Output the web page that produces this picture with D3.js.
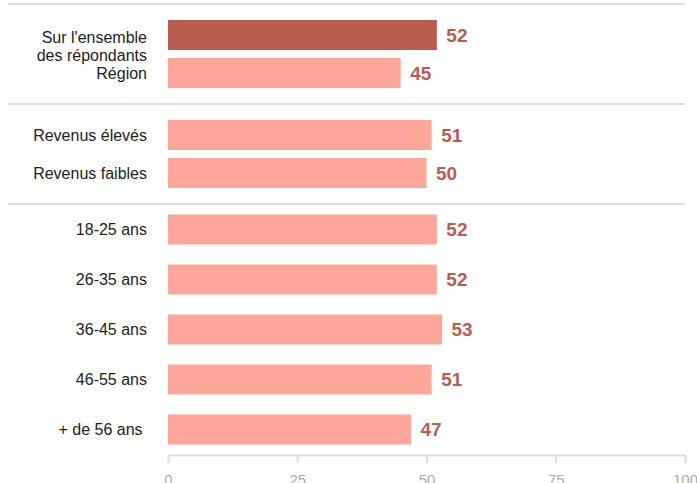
<!DOCTYPE html>
<html>
<head>
<meta charset="utf-8">
<script src="https://cdn.jsdelivr.net/npm/d3@7/dist/d3.min.js"></script>
<style>
  html, body { margin: 0; padding: 0; background: #fff; }
  svg { display: block; font-family: "Liberation Sans", Arial, sans-serif; }
</style>
</head>
<body>
<svg id="chart" width="697" height="483"></svg>
<script>
// Data
const groups = ["Ensemble", "Revenus", "Âge"];
const categories = [
  ["Sur l'ensemble|des répondants", "Région"],
  ["Revenus élevés", "Revenus faibles"],
  ["18-25 ans", "26-35 ans", "36-45 ans", "46-55 ans", "+ de 56 ans "]
];
const values = [
  [52, 45],
  [51, 50],
  [52, 52, 53, 51, 47]
];
const highlighted = ["Sur l'ensemble|des répondants"];
const xTicks = [0, 25, 50, 75, 100];

// Layout
const svg = d3.select("#chart");
const x = d3.scaleLinear().domain([0, 100]).range([168, 685]);
const panelRanges = [[4, 104], [104, 204], [204, 455]];
const panelPad = [
  { inner: 8 / 38, outer: 0.421 },
  { inner: 8 / 38, outer: 0.421 },
  { inner: 0.4, outer: 0.21 }
];
const darkColor = "#b95d51";
const lightColor = "#ffa69a";
const gridColor = "#dddddd";

// Separators
svg.append("g").selectAll("line")
  .data(panelRanges.map(r => r[0]))
  .join("line")
  .attr("x1", 8).attr("x2", 685)
  .attr("y1", d => d).attr("y2", d => d)
  .attr("stroke", gridColor).attr("stroke-width", 2);

groups.forEach((g, gi) => {
  const y = d3.scaleBand()
    .domain(categories[gi])
    .range(panelRanges[gi])
    .paddingInner(panelPad[gi].inner)
    .paddingOuter(panelPad[gi].outer);
  const rows = categories[gi].map((c, i) => ({ c, v: values[gi][i] }));
  const gg = svg.append("g");

  gg.selectAll("rect")
    .data(rows)
    .join("rect")
    .attr("x", x(0))
    .attr("y", d => y(d.c))
    .attr("width", d => x(d.v) - x(0))
    .attr("height", y.bandwidth())
    .attr("fill", d => highlighted.includes(d.c) ? darkColor : lightColor);

  gg.selectAll("text.val")
    .data(rows)
    .join("text")
    .attr("class", "val")
    .attr("x", d => x(d.v) + 9.5)
    .attr("y", d => y(d.c) + y.bandwidth() / 2)
    .attr("dy", "0.36em")
    .attr("font-size", 19)
    .attr("font-weight", "bold")
    .attr("fill", darkColor)
    .text(d => d.v);

  const lab = gg.selectAll("text.lab")
    .data(rows)
    .join("text")
    .attr("class", "lab")
    .attr("x", 147)
    .attr("y", d => y(d.c) + y.bandwidth() / 2)
    .attr("text-anchor", "end")
    .attr("font-size", 16)
    .attr("fill", "#222")
    .style("white-space", "pre");
  lab.each(function(d) {
    const lines = d.c.split("|");
    d3.select(this).selectAll("tspan")
      .data(lines)
      .join("tspan")
      .attr("x", 147)
      .attr("dy", (l, i) => i === 0 ? (lines.length > 1 ? "0.48em" : "0.36em") : "1.15em")
      .text(l => l);
  });
});

// Axis
const axis = svg.append("g")
  .attr("transform", "translate(0,455)")
  .call(d3.axisBottom(x).tickValues(xTicks).tickSize(8).tickSizeOuter(0).tickPadding(11));
axis.select(".domain").attr("stroke", gridColor).attr("stroke-width", 2);
axis.selectAll(".tick line").attr("stroke", gridColor).attr("stroke-width", 2);
axis.selectAll(".tick text")
  .attr("fill", "#aaaaaa")
  .attr("font-size", 15)
  .attr("font-family", "Liberation Sans, Arial, sans-serif");
</script>
</body>
</html>
